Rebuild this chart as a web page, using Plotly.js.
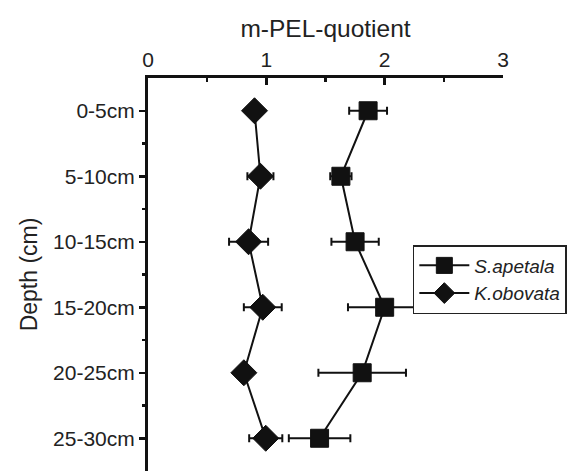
<!DOCTYPE html>
<html>
<head>
<meta charset="utf-8">
<script src="https://cdn.plot.ly/plotly-3.0.1.min.js"></script>
<style>html,body{margin:0;padding:0;background:#fff;}#chart{width:567px;height:471px;}</style>
</head>
<body>
<div id="chart"></div>
<script>
const depths = ["0-5cm", "5-10cm", "10-15cm", "15-20cm", "20-25cm", "25-30cm"];
const sApetala = [1.86, 1.63, 1.75, 2.00, 1.81, 1.45];
const sApetalaErr = [0.16, 0.09, 0.20, 0.31, 0.37, 0.26];
const kObovata = [0.90, 0.95, 0.85, 0.97, 0.81, 0.995];
const kObovataErr = [0.05, 0.11, 0.165, 0.16, 0.05, 0.14];

const idx = depths.map((d, i) => i);
const ink = '#111111';
const fontFam = 'Liberation Sans, Arial, Helvetica, sans-serif';

const traces = [
  {
    name: 'S.apetala', x: sApetala, y: idx, type: 'scatter', mode: 'lines+markers',
    line: {color: ink, width: 2},
    marker: {symbol: 'square', size: 18, color: ink, line: {color: ink, width: 1}},
    error_x: {type: 'data', array: sApetalaErr, visible: true, color: ink, thickness: 2, width: 4}
  },
  {
    name: 'K.obovata', x: kObovata, y: idx, type: 'scatter', mode: 'lines+markers',
    line: {color: ink, width: 2},
    marker: {symbol: 'diamond', size: 20, color: ink, line: {color: ink, width: 1}},
    error_x: {type: 'data', array: kObovataErr, visible: true, color: ink, thickness: 2, width: 4}
  }
];

const layout = {
  width: 567, height: 471,
  margin: {l: 148, r: 64, t: 78, b: 0},
  paper_bgcolor: '#fff', plot_bgcolor: '#fff',
  font: {family: fontFam, color: '#222', size: 21},
  showlegend: true,
  legend: {
    x: 0.746, y: 0.575, xanchor: 'left', yanchor: 'top',
    bgcolor: '#fff', bordercolor: '#222', borderwidth: 1.5,
    font: {family: fontFam, size: 19, style: 'italic', color: '#222'},
    tracegroupgap: 0, itemwidth: 50
  },
  xaxis: {
    side: 'top', range: [0, 3], tickmode: 'array', tickvals: [0, 1, 2, 3],
    ticks: 'inside', ticklen: 7, tickwidth: 2.5, tickcolor: ink,
    showline: true, linecolor: ink, linewidth: 3, showgrid: false, zeroline: false,
    tickfont: {size: 21},
    minor: {tickvals: [0.5, 1.5, 2.5], ticks: 'inside', ticklen: 4, tickwidth: 2.5, tickcolor: ink, showgrid: false},
    title: {text: 'm-PEL-quotient', font: {size: 24.5}, standoff: 4}
  },
  yaxis: {
    range: [5.5, -0.5], tickmode: 'array', tickvals: idx, ticktext: depths,
    ticks: 'outside', ticklen: 6, tickwidth: 2.5, tickcolor: ink,
    showline: true, linecolor: ink, linewidth: 3, showgrid: false, zeroline: false,
    tickfont: {size: 21},
    minor: {tickvals: [0.5, 1.5, 2.5, 3.5, 4.5], ticks: 'outside', ticklen: 3, tickwidth: 2.5, tickcolor: ink, showgrid: false},
    title: {text: 'Depth (cm)', font: {size: 23}, standoff: 10}
  }
};

Plotly.newPlot('chart', traces, layout, {staticPlot: true, displayModeBar: false});
</script>
</body>
</html>
